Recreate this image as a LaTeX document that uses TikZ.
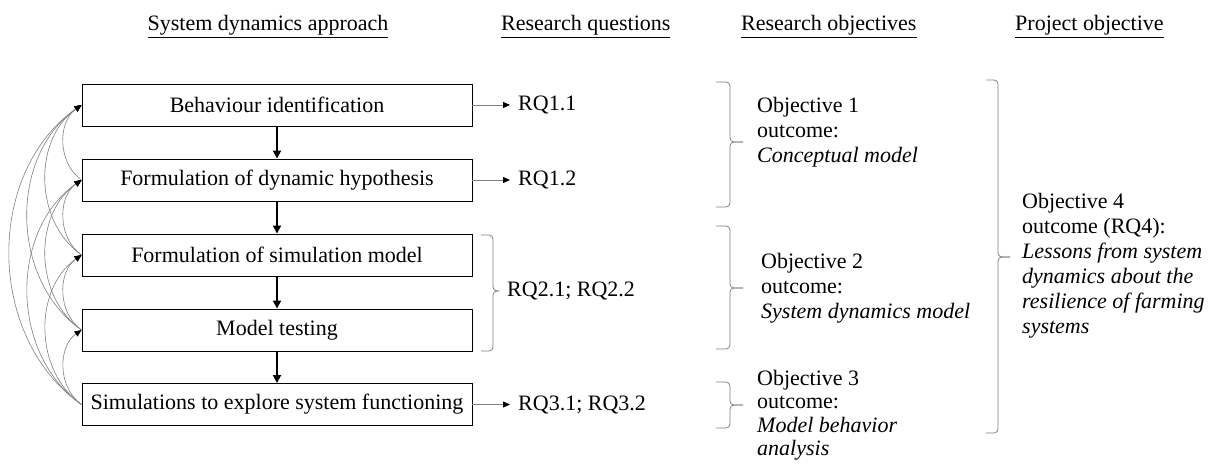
\documentclass[tikz,border=0pt]{standalone}
\usepackage{fontspec}
\setmainfont{Liberation Serif}
\usetikzlibrary{arrows.meta,calc}
\definecolor{linegray}{RGB}{128,128,128}
\begin{document}
\begin{tikzpicture}[x=1pt,y=-1pt,
  every node/.style={inner sep=0pt,font=\fontsize{22}{25}\selectfont},
  stage/.style={draw,line width=0.9pt,minimum width=390pt,minimum height=42pt},
  hdr/.style={anchor=base},
  txt/.style={align=left,anchor=north west},
  flow/.style={line width=1.8pt,-{Triangle[length=8pt,width=8pt]}},
  qarrow/.style={draw=linegray,line width=0.8pt,-{Triangle[length=7pt,width=6pt,color=black]}},
  fb/.style={draw=linegray,line width=0.6pt,-{Triangle[length=7pt,width=6pt,color=black]}},
  bracket/.style={draw=linegray,line width=0.8pt,rounded corners=4pt}
]
\useasboundingbox (0,0) rectangle (1211,465);

% column headings
\node[hdr] (h1) at (268,31) {\underline{System dynamics approach}};
\node[hdr,anchor=base west] (h2) at (501,31) {\underline{Research questions}};
\node[hdr,anchor=base west] (h3) at (741,31) {\underline{Research objectives}};
\node[hdr,anchor=base west] (h4) at (1015,31) {\underline{Project objective}};

% modelling stages
\node[stage] (b1) at (277,105) {Behaviour identification};
\node[stage] (b2) at (277,180) {Formulation of dynamic hypothesis};
\node[stage] (b3) at (277,255) {Formulation of simulation model};
\node[stage] (b4) at (277,330) {Model testing};
\node[stage] (b5) at (277,404.5) {Simulations to explore system functioning};

\foreach \a/\b in {b1/b2,b2/b3,b3/b4,b4/b5}
  \draw[flow] (\a.south) -- (\b.north);

% feedback from every stage to each earlier one
\newcommand\feedback[3]{%
  \draw[fb] (#1.west) .. controls ($(#1.west)+(-0.3207*#3,-0.2246*#3)$)
    and ($(#2.west)+(-0.3207*#3,0.2246*#3)$) .. (#2.west);}
\feedback{b2}{b1}{75}
\feedback{b3}{b2}{75}
\feedback{b4}{b3}{75}
\feedback{b5}{b4}{74.5}
\feedback{b3}{b1}{150}
\feedback{b4}{b2}{150}
\feedback{b5}{b3}{149.5}
\feedback{b4}{b1}{225}
\feedback{b5}{b2}{224.5}
\feedback{b5}{b1}{299.5}

% research questions
\node[anchor=west] (q1) at (518,105) {RQ1.1};
\node[anchor=west] (q2) at (518,180) {RQ1.2};
\node[anchor=west] (q3) at (507,291) {RQ2.1; RQ2.2};
\node[anchor=west] (q5) at (518,404.5) {RQ3.1; RQ3.2};
\draw[qarrow] (b1.east) -- ($(q1.west)+(-8,0)$);
\draw[qarrow] (b2.east) -- ($(q2.west)+(-8,0)$);
\draw[qarrow] (b5.east) -- ($(q5.west)+(-8,0)$);

% braces
\newcommand\sidebrace[6]{%
  \draw[bracket] (#1,#4) -- (#2,#4) -- (#2,#5) -- (#3,#5);
  \draw[bracket] (#1,#6) -- (#2,#6) -- (#2,#5) -- (#3,#5);}
\sidebrace{481}{493}{499}{235}{291}{351}
\sidebrace{716}{730}{743}{82}{142}{207}
\sidebrace{716}{730}{743}{226}{288}{349}
\sidebrace{716}{730}{743}{382}{405}{428}
\sidebrace{986}{998}{1010}{80}{257}{433}

% objectives
\node[txt] (o1) at (757,97) {Objective 1\\outcome:\\\textit{Conceptual model}};
\node[txt] (o2) at (761,253) {Objective 2\\outcome:\\\textit{System dynamics model}};
\node[txt,font=\fontsize{22}{23.5}\selectfont] (o3) at (757,370) {Objective 3\\outcome:\\\textit{Model behavior}\\\textit{analysis}};
\node[txt] (o4) at (1022,193) {Objective 4\\outcome (RQ4):\\\textit{Lessons from system}\\\textit{dynamics about the}\\\textit{resilience of farming}\\\textit{systems}};
\end{tikzpicture}
\end{document}
